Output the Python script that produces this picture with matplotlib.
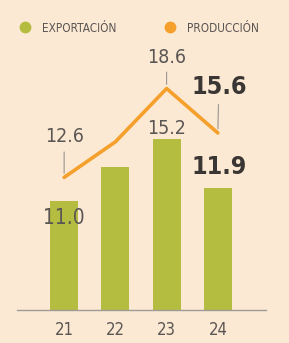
import matplotlib.pyplot as plt
from matplotlib.lines import Line2D

years = ['21', '22', '23', '24']
exportacion = [11.0, 13.3, 15.2, 11.9]
produccion = [12.6, 15.0, 18.6, 15.6]

bg = '#fce9d3'
green = '#b5bd40'
orange = '#f5a02c'
grey = '#5a5654'

plt.rcParams['font.family'] = ['DejaVu Sans']
plt.rcParams['font.stretch'] = 'condensed'

fig = plt.figure(figsize=(2.89, 3.43), dpi=100, facecolor=bg)
# axes placed in pixel terms: left 17, right 266, baseline 310, top 50
ax = fig.add_axes([17 / 289, (343 - 310) / 343, 249 / 289, 260 / 343])
ax.set_facecolor(bg)

x = list(range(len(years)))
ax.bar(x, exportacion, width=0.55, color=green, zorder=2)
ax.plot(x, produccion, color=orange, lw=2.6, solid_capstyle='round',
        solid_joinstyle='round', zorder=3)

ax.set_xlim(-0.92, 3.94)
ax.set_ylim(3.65, 21.2)

for s in ['top', 'right', 'left']:
    ax.spines[s].set_visible(False)
ax.spines['bottom'].set_color('#a09a96')
ax.spines['bottom'].set_linewidth(1.0)
ax.set_yticks([])
ax.set_xticks(x)
ax.set_xticklabels(years, fontsize=12, color=grey)
ax.tick_params(axis='x', length=0, pad=8)

# production labels with thin leader lines
prod_offsets = {0: 31, 2: 22, 3: 34}
for i, off in prod_offsets.items():
    last = i == len(years) - 1
    ax.annotate(f'{produccion[i]:.1f}', xy=(x[i], produccion[i]),
                xytext=(1 if last else 0, off), textcoords='offset pixels',
                ha='center', va='bottom',
                fontsize=18 if last else 14,
                fontweight='bold' if last else 'normal',
                color='#3a3634' if last else grey,
                arrowprops=dict(arrowstyle='-', color='#9a9490', lw=0.8,
                                shrinkA=2, shrinkB=3))

# export labels
ax.annotate(f'{exportacion[0]:.1f}', xy=(x[0], exportacion[0]),
            xytext=(0, -7), textcoords='offset pixels',
            ha='center', va='top', fontsize=15, color=grey, zorder=4)
ax.annotate(f'{exportacion[2]:.1f}', xy=(x[2], exportacion[2]),
            xytext=(0, 1), textcoords='offset pixels',
            ha='center', va='bottom', fontsize=14, color=grey)
ax.annotate(f'{exportacion[3]:.1f}', xy=(x[3], exportacion[3]),
            xytext=(1, 9), textcoords='offset pixels',
            ha='center', va='bottom', fontsize=18, fontweight='bold',
            color='#3a3634')

handles = [Line2D([], [], ls='none', marker='o', ms=7.5, color=green),
           Line2D([], [], ls='none', marker='o', ms=7.5, color=orange)]
fig.legend(handles, ['EXPORTACIÓN', 'PRODUCCIÓN'], ncol=2, frameon=False,
           loc='center left', bbox_to_anchor=(8 / 289, 1 - 28 / 343),
           fontsize=8.5, labelcolor=grey, handletextpad=1.0,
           columnspacing=4.0, handlelength=1.0)

fig.savefig('out.png', dpi=100, facecolor=bg)
